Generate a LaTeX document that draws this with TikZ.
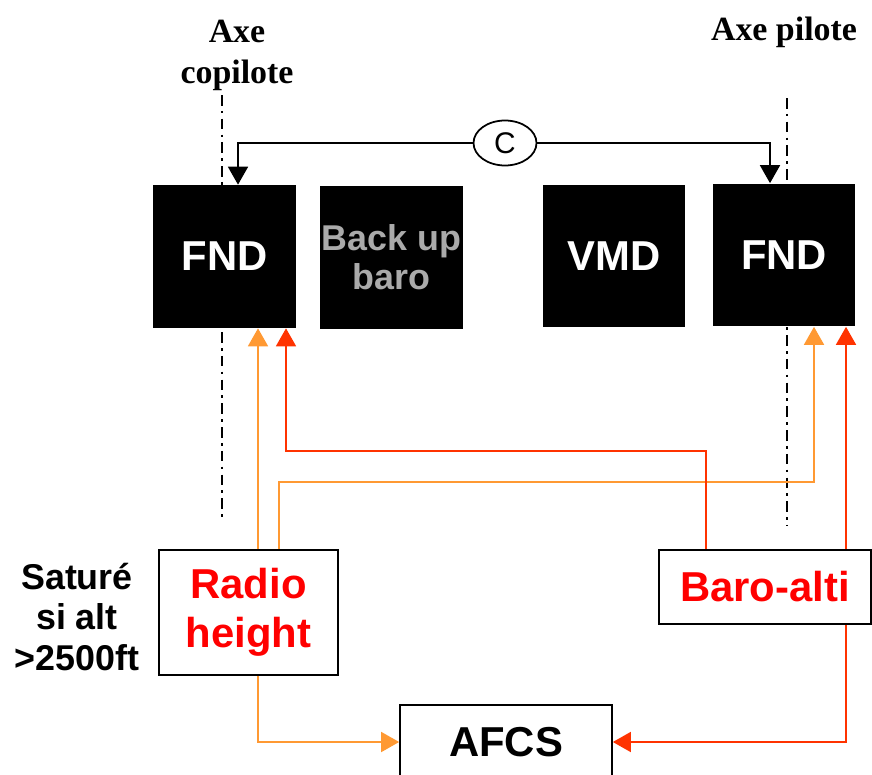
\documentclass[tikz,border=0pt]{standalone}
\usepackage{fontspec}
\setmainfont{Liberation Sans}
\newfontfamily\axefont{Liberation Serif}
\usetikzlibrary{arrows.meta,positioning,shapes.geometric,calc}
\definecolor{lorange}{RGB}{255,153,51}
\definecolor{lred}{RGB}{255,51,0}
\definecolor{txtred}{RGB}{255,0,0}
\definecolor{txtgray}{RGB}{170,170,170}
\tikzset{
  dispblk/.style={draw=none, fill=black, rectangle, inner sep=0pt, minimum width=2.86cm, minimum height=2.86cm, align=center, text=white, font=\fontsize{23.8}{24}\selectfont\bfseries},
  sysblk/.style={draw, rectangle, line width=1pt, align=center, text=txtred, font=\fontsize{23.8}{28}\selectfont\bfseries},
  axelbl/.style={align=center, font=\axefont\fontsize{19.3}{23.3}\selectfont\bfseries},
  axeline/.style={line width=1pt, dash pattern=on 6pt off 3pt on 1.5pt off 3pt},
  arr/.style={-{Triangle[length=0.36cm,width=0.4cm]}, line width=1pt},
  arrO/.style={arr, draw=lorange},
  arrR/.style={arr, draw=lred},
}
\begin{document}
\begin{tikzpicture}[x=0.02cm, y=-0.02cm]
\useasboundingbox (0,0) rectangle (872,774);

% axes
\node[axelbl] (lblcop) at (237,55) {Axe\\copilote};
\node[axelbl] (lblpil) at (784,32) {Axe pilote};
\draw[axeline] (222,95) -- (222,520);
\draw[axeline] (787,98) -- (787,525);

% displays
\node[dispblk] (fndL) at (224.5,256.5) {FND};
\node[dispblk, text=txtgray, font=\fontsize{20.4}{22}\selectfont\bfseries] (backup) at (391.5,257.5) {Back up\\baro};
\node[dispblk] (vmd) at (614,256) {VMD};
\node[dispblk] (fndR) at (784,255) {FND};

\node[draw, ellipse, line width=1pt, minimum width=1.26cm, minimum height=0.9cm, inner sep=0pt, fill=white, font=\fontsize{17}{17}\selectfont] (cross) at (505,143) {C};

% sensors
\node[sysblk, minimum width=3.58cm, minimum height=2.5cm] (radio) at (248.5,612.5) {Radio\\height};
\node[sysblk, minimum width=4.24cm, minimum height=1.48cm] (baro) at (765,587) {Baro-alti};
\node[sysblk, text=black, minimum width=4.24cm, minimum height=1.48cm] (afcs) at (506,742) {AFCS};
\node[align=center, font=\fontsize{20.4}{23.3}\selectfont\bfseries] (satur) at (77,617) {Saturé\\si alt\\>2500ft};

% links
\draw[arr] (cross.west) -| ($(fndL.north)+(13.5,0)$);
\draw[arr] (cross.east) -| ($(fndR.north)+(-14,0)$);
\draw[arrO] ($(radio.north)+(9.5,0)$) -- ($(fndL.south)+(33.5,0)$);
\draw[arrO] ($(radio.north)+(30.5,0)$) -- ++(0,-67) -| ($(fndR.south)+(30,0)$);
\draw[arrR] ($(baro.north)+(-59,0)$) -- ++(0,-98) -| ($(fndL.south)+(61.5,0)$);
\draw[arrR] ($(baro.north)+(81,0)$) -- ($(fndR.south)+(62,0)$);
\draw[arrO] ($(radio.south)+(9.5,0)$) |- (afcs.west);
\draw[arrR] ($(baro.south)+(81,0)$) |- (afcs.east);

\end{tikzpicture}
\end{document}
